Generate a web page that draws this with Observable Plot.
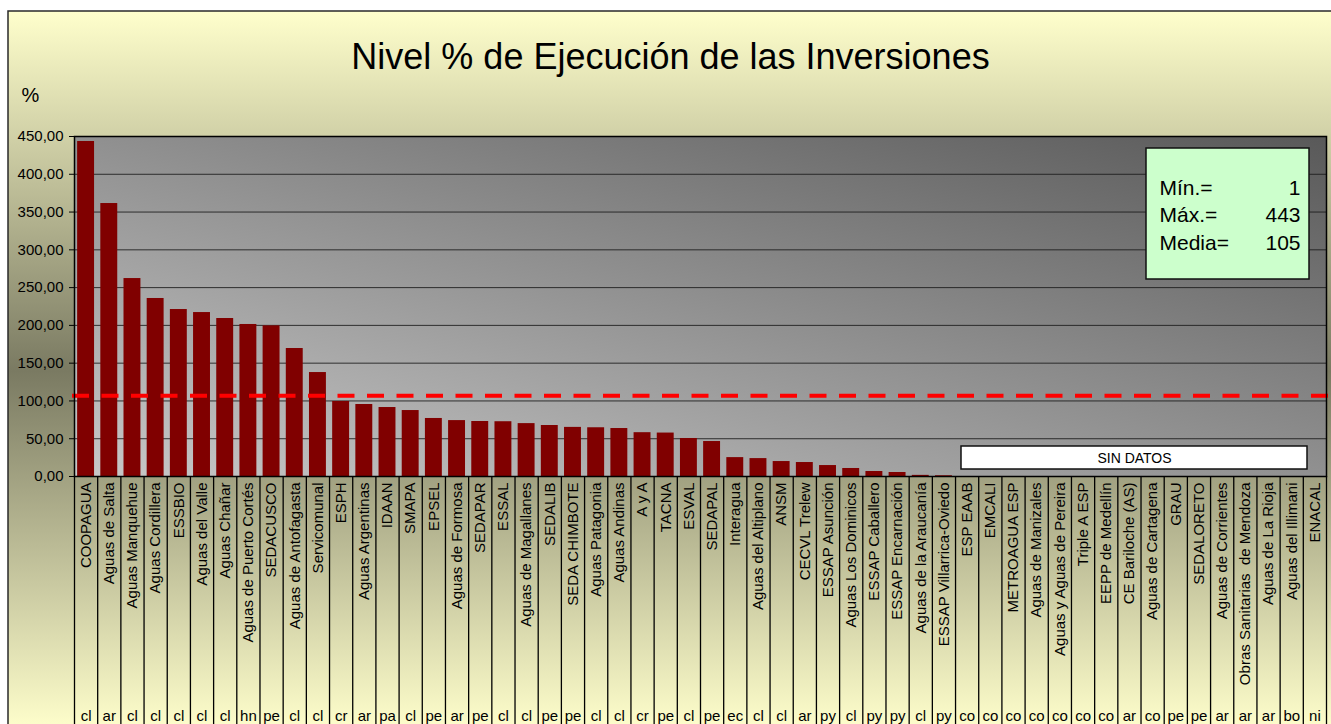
<!DOCTYPE html>
<html>
<head>
<meta charset="utf-8">
<script src="https://cdn.jsdelivr.net/npm/d3@7"></script>
<script src="https://cdn.jsdelivr.net/npm/@observablehq/plot@0.6"></script>
<style>
  html, body { margin: 0; padding: 0; background: #ffffff; }
  svg { display: block; }
</style>
</head>
<body>
<div id="chart"></div>
<script>
// ---------- data ----------
const names = [
  "COOPAGUA", "Aguas de Salta", "Aguas Manquehue", "Aguas Cordillera", "ESSBIO",
  "Aguas del Valle", "Aguas Chañar", "Aguas de Puerto Cortés", "SEDACUSCO", "Aguas de Antofagasta",
  "Servicomunal", "ESPH", "Aguas Argentinas", "IDAAN", "SMAPA",
  "EPSEL", "Aguas de Formosa", "SEDAPAR", "ESSAL", "Aguas de Magallanes",
  "SEDALIB", "SEDA CHIMBOTE", "Aguas Patagonia", "Aguas Andinas", "A y A",
  "TACNA", "ESVAL", "SEDAPAL", "Interagua", "Aguas del Altiplano",
  "ANSM", "CECVL Trelew", "ESSAP Asunción", "Aguas Los Dominicos", "ESSAP Caballero",
  "ESSAP Encarnación", "Aguas de la Araucanía", "ESSAP Villarrica-Oviedo", "ESP EAAB", "EMCALI",
  "METROAGUA ESP", "Aguas de Manizales", "Aguas y Aguas de Pereira", "Triple A ESP", "EEPP de Medellín",
  "CE Bariloche (AS)", "Aguas de Cartagena", "GRAU", "SEDALORETO", "Aguas de Corrientes",
  "Obras Sanitarias  de Mendoza", "Aguas de La Rioja", "Aguas del Illimani", "ENACAL"
];
const countries = [
  "cl", "ar", "cl", "cl", "cl", "cl", "cl", "hn", "pe", "cl",
  "cl", "cr", "ar", "pa", "cl", "pe", "ar", "pe", "cl", "cl",
  "pe", "pe", "cl", "cl", "cr", "pe", "cl", "pe", "ec", "cl",
  "cl", "ar", "py", "cl", "py", "py", "cl", "py", "co", "co",
  "co", "co", "co", "co", "co", "ar", "co", "pe", "pe", "ar",
  "ar", "ar", "bo", "ni"
];
const values = [
  443.4, 361.3, 262.0, 235.6, 221.0, 217.0, 209.1, 201.2, 199.4, 169.4,
  137.6, 99.3, 95.3, 91.3, 87.3, 76.8, 74.0, 72.8, 72.5, 70.0,
  67.5, 65.0, 64.5, 63.5, 58.0, 57.5, 50.3, 46.3, 25.0, 23.7,
  19.8, 18.5, 14.5, 10.6, 6.6, 5.3, 1.5, 1.0, null, null,
  null, null, null, null, null, null, null, null, null, null,
  null, null, null, null
];
const yTicks = [0, 50, 100, 150, 200, 250, 300, 350, 400, 450];
const gridTicks = [50, 100, 150, 200, 250, 300, 350, 400];
const meanLine = [107];
const titleText = ["Nivel % de Ejecución de las Inversiones"];
const unitText = ["%"];
const statLabels = ["Mín.=", "Máx.=", "Media="];
const statValues = ["1", "443", "105"];
const noDataText = ["SIN DATOS"];

// ---------- layout ----------
const W = 1331, H = 724;
const M = {left: 74, right: 5, top: 136, bottom: 248};
const plotH = H - M.top - M.bottom;
const plotW = W - M.left - M.right;
const step = plotW / names.length;
const FONT = "'Liberation Sans', Arial, Helvetica, sans-serif";

const table = names.map((n, i) => ({name: n, country: countries[i], value: values[i]}));
const withData = table.filter(d => d.value != null);

const fmt = d3.formatLocale({decimal: ",", thousands: ".", grouping: [3], currency: ["", ""]}).format(".2f");

function dimsOf(args) {
  return args.find(a => a && typeof a === "object" && "marginLeft" in a && "width" in a) ||
    {width: W, height: H, marginLeft: M.left, marginRight: M.right, marginTop: M.top, marginBottom: M.bottom};
}

// background: gradients + outer chart area
const background = (...args) => {
  const d = dimsOf(args);
  const g = d3.create("svg:g");
  const defs = g.append("defs");
  const og = defs.append("linearGradient").attr("id", "outerGrad")
    .attr("x1", 0).attr("y1", 0).attr("x2", 0).attr("y2", 1);
  og.append("stop").attr("offset", "0").attr("stop-color", "#ffffcc");
  og.append("stop").attr("offset", "0.5").attr("stop-color", "#7a7a62");
  og.append("stop").attr("offset", "1").attr("stop-color", "#ffffcc");
  const pg = defs.append("linearGradient").attr("id", "plotGrad")
    .attr("x1", 0).attr("y1", 1).attr("x2", 1).attr("y2", 0);
  pg.append("stop").attr("offset", "0").attr("stop-color", "#c8c8c8");
  pg.append("stop").attr("offset", "1").attr("stop-color", "#595959");
  g.append("rect")
    .attr("x", 8).attr("y", 11)
    .attr("width", d.width).attr("height", 720)
    .attr("fill", "url(#outerGrad)")
    .attr("stroke", "#2a2a2a").attr("stroke-width", 1.5);
  return g.node();
};

// stats box and "sin datos" box
const boxes = (...args) => {
  const d = dimsOf(args);
  const right = d.width - d.marginRight;
  const bottom = d.height - d.marginBottom;
  const g = d3.create("svg:g");
  g.append("rect")
    .attr("x", right - 180).attr("y", d.marginTop + 12)
    .attr("width", 163).attr("height", 131)
    .attr("fill", "#ccffcc").attr("stroke", "#111").attr("stroke-width", 1.5);
  g.append("rect")
    .attr("x", right - 365).attr("y", bottom - 30)
    .attr("width", 346).attr("height", 23)
    .attr("fill", "#ffffff").attr("stroke", "#111").attr("stroke-width", 1.5);
  return g.node();
};

const chart = Plot.plot({
  width: W,
  height: H,
  marginLeft: M.left,
  marginRight: M.right,
  marginTop: M.top,
  marginBottom: M.bottom,
  style: {fontFamily: FONT, background: "#ffffff", color: "#000000", overflow: "visible"},
  x: {type: "band", domain: names, paddingInner: 0.27, paddingOuter: 0.135, align: 0.5, round: false, axis: null},
  y: {domain: [0, 450], axis: null},
  marks: [
    background,
    Plot.frame({fill: "url(#plotGrad)", stroke: "none"}),
    Plot.gridY(gridTicks, {stroke: "#1a1a1a", strokeOpacity: 0.85, strokeWidth: 1}),
    Plot.axisY({
      ticks: yTicks, tickFormat: fmt, tickSize: 5, tickPadding: 6,
      fontSize: 15, label: null, stroke: "#000", fill: "#000"
    }),
    Plot.barY(withData, {x: "name", y: "value", fill: "#800000"}),
    Plot.ruleY(meanLine, {
      stroke: "#ff0000", strokeWidth: 4, strokeDasharray: "17,12.5",
      insetLeft: -2, insetRight: -8
    }),
    Plot.frame({stroke: "#000", strokeWidth: 1.5}),
    // column separators in the label area
    Plot.ruleX(names, {
      x: d => d, dx: -step / 2, insetTop: plotH, insetBottom: -M.bottom,
      stroke: "#000", strokeWidth: 1.3
    }),
    Plot.ruleX(names.slice(-1), {
      x: d => d, dx: step / 2, insetTop: plotH, insetBottom: -M.bottom,
      stroke: "#000", strokeWidth: 1.3
    }),
    // category names
    Plot.text(table, {
      x: "name", text: "name", frameAnchor: "bottom", dy: 6,
      rotate: -90, textAnchor: "end", lineAnchor: "middle", fontSize: 15, fill: "#000"
    }),
    // country codes
    Plot.text(table, {
      x: "name", text: "country", frameAnchor: "bottom", dy: 240,
      textAnchor: "middle", lineAnchor: "middle", fontSize: 15, fill: "#000"
    }),
    boxes,
    ...statLabels.map((s, i) => Plot.text([s], {
      text: d => d, frameAnchor: "top-right", dx: -167, dy: 51.3 + i * 27.7,
      textAnchor: "start", lineAnchor: "middle", fontSize: 21, fill: "#000"
    })),
    ...statValues.map((s, i) => Plot.text([s], {
      text: d => d, frameAnchor: "top-right", dx: -26, dy: 51.3 + i * 27.7,
      textAnchor: "end", lineAnchor: "middle", fontSize: 21, fill: "#000"
    })),
    Plot.text(noDataText, {
      text: d => d, frameAnchor: "bottom-right", dx: -192, dy: -18.2,
      textAnchor: "middle", lineAnchor: "middle", fontSize: 14, fill: "#000"
    }),
    Plot.text(titleText, {
      text: d => d, frameAnchor: "top", dx: -30, dy: -79.5,
      textAnchor: "middle", lineAnchor: "middle", fontSize: 36, fill: "#000"
    }),
    Plot.text(unitText, {
      text: d => d, frameAnchor: "top-left", dx: -53, dy: -40.7,
      textAnchor: "start", lineAnchor: "middle", fontSize: 20, fill: "#000"
    })
  ]
});

document.getElementById("chart").appendChild(chart);
</script>
</body>
</html>
